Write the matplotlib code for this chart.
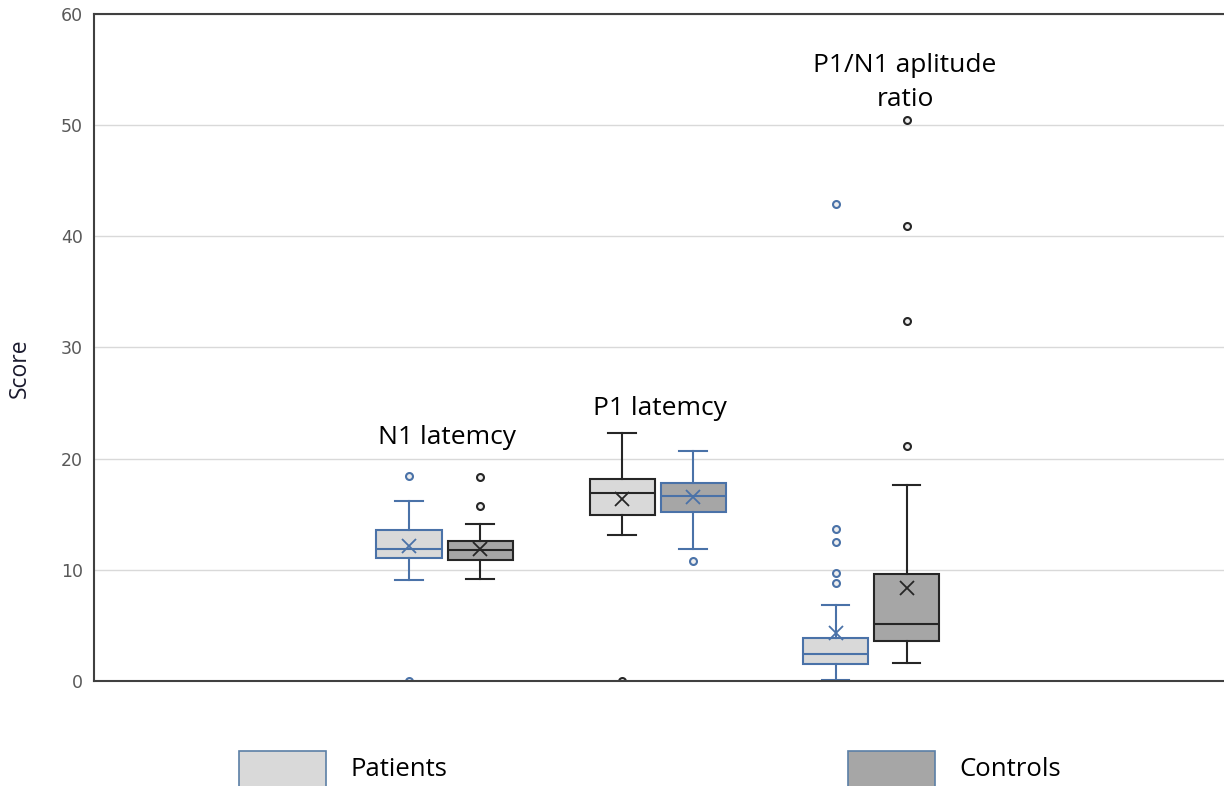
import matplotlib.pyplot as plt
from matplotlib.patches import Rectangle

medidas = ["N1 latemcy", "P1 latemcy", "P1/N1 aplitude\nratio"]
grupos = ["Patients", "Controls"]

# orden: N1 pac, N1 ctrl, P1 pac, P1 ctrl, ratio pac, ratio ctrl
mediana = [11.9, 11.8, 16.9, 16.6, 2.4, 5.1]
q1 = [11.1, 10.9, 14.9, 15.2, 1.5, 3.6]
q3 = [13.6, 12.6, 18.2, 17.8, 3.9, 9.6]
bigote_inf = [9.1, 9.2, 13.1, 11.9, 0.1, 1.6]
bigote_sup = [16.2, 14.1, 22.3, 20.7, 6.8, 17.6]
media = [12.1, 11.9, 16.4, 16.5, 4.3, 8.4]
atipicos = [
    [18.4, 0.0],
    [18.3, 15.7],
    [0.0],
    [10.8],
    [42.9, 13.7, 12.5, 9.7, 8.8],
    [50.4, 40.9, 32.4, 21.1],
]

azul = "#4a72a8"
negro = "#262626"
claro = "#d9d9d9"
oscuro = "#a6a6a6"
bordes = [azul, negro, negro, azul, azul, negro]
rellenos = [claro, oscuro, claro, oscuro, claro, oscuro]

fig = plt.figure(figsize=(12.24, 7.86), dpi=100)
ax = fig.add_axes([0.0768, 0.1336, 0.9232, 0.8492])

posiciones = []
for g in range(3):
    posiciones += [g + 1 - 1 / 6, g + 1 + 1 / 6]

for i in range(6):
    stats = [{
        "med": mediana[i], "q1": q1[i], "q3": q3[i],
        "whislo": bigote_inf[i], "whishi": bigote_sup[i],
        "mean": media[i], "fliers": atipicos[i],
    }]
    c = bordes[i]
    ax.bxp(
        stats, positions=[posiciones[i]], widths=0.305, capwidths=0.13,
        showmeans=True, patch_artist=True,
        boxprops=dict(facecolor=rellenos[i], edgecolor=c, linewidth=1.5),
        medianprops=dict(color=c, linewidth=1.5),
        whiskerprops=dict(color=c, linewidth=1.5),
        capprops=dict(color=c, linewidth=1.5),
        meanprops=dict(marker="x", markeredgecolor=c, markersize=10,
                       markeredgewidth=1.3),
        flierprops=dict(marker="o", markerfacecolor="#eeeeee",
                        markeredgecolor=c, markersize=5, markeredgewidth=1.5),
    )

ax.set_xlim(-0.6436, 4.655)
ax.set_ylim(0, 60)
ax.set_yticks(range(0, 61, 10))
ax.set_xticks([])
ax.tick_params(axis="y", length=0, labelsize=12.5, labelcolor="#595959", pad=8)
ax.grid(axis="y", color="#d9d9d9", linewidth=1)
ax.set_axisbelow(True)
for s in ["top", "bottom", "left"]:
    ax.spines[s].set_color("#404040")
    ax.spines[s].set_linewidth(1.5)
ax.spines["right"].set_visible(False)

ax.set_ylabel("Score", fontsize=16.5, family="Open Sans", color="#1a1a2e")
ax.yaxis.set_label_coords(-0.055, 0.468)

# Etiquetas de cada medida
ax.text(1.01, 21.9, medidas[0], ha="center", va="center", fontsize=19, family="Open Sans")
ax.text(2.01, 24.5, medidas[1], ha="center", va="center", fontsize=19, family="Open Sans")
ax.text(3.16, 53.8, medidas[2], ha="center", va="center", fontsize=19,
        family="Open Sans", linespacing=1.45)

# Leyenda inferior
for x0, xt, col, nombre in [(0.1953, 0.286, claro, grupos[0]), (0.6928, 0.7835, oscuro, grupos[1])]:
    fig.add_artist(Rectangle((x0, -0.02), 0.0711, 0.0645, transform=fig.transFigure,
                             facecolor=col, edgecolor="#5b7fa6", linewidth=1.2))
    fig.text(xt, 0.021, nombre, ha="left", va="center", fontsize=18.5, family="Open Sans")

fig.savefig("out.png", dpi=100)
